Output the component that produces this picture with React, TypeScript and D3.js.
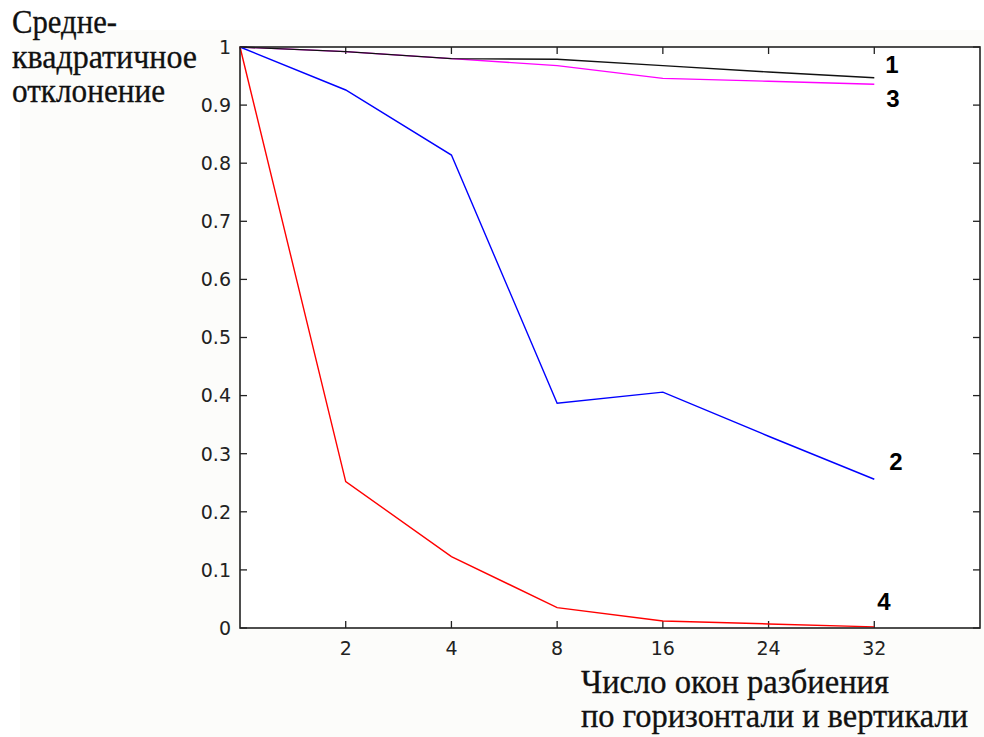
import React, { useEffect, useRef } from 'react'
import * as d3 from 'd3'

// x categories: number of windows (first point has no tick label)
const windows = [1, 2, 4, 8, 16, 24, 32]
const xTickLabels = ['2', '4', '8', '16', '24', '32']
const yTicks = [0, 0.1, 0.2, 0.3, 0.4, 0.5, 0.6, 0.7, 0.8, 0.9, 1]

const curve1 = [1, 0.992, 0.98, 0.979, 0.968, 0.957, 0.947]
const curve2 = [1, 0.926, 0.814, 0.387, 0.406, 0.33, 0.256]
const curve3 = [1, 0.992, 0.98, 0.968, 0.946, 0.941, 0.936]
const curve4 = [1, 0.252, 0.123, 0.035, 0.012, 0.007, 0.002]

const series = [
  { id: '3', values: curve3, color: '#ff00ff' },
  { id: '1', values: curve1, color: '#111111' },
  { id: '2', values: curve2, color: '#0000ff' },
  { id: '4', values: curve4, color: '#ff0000' }
]

const yTitle = ['Средне-', 'квадратичное', 'отклонение']
const xTitle = ['Число окон разбиения', 'по горизонтали и вертикали']

const width = 984
const height = 737

export default function App() {
  const svgRef = useRef<SVGSVGElement>(null)

  useEffect(() => {
    if (!svgRef.current) return
    const svg = d3.select(svgRef.current)
    svg.selectAll('*').remove()

    const left = 240
    const right = 980
    const top = 47
    const bottom = 628

    const x = d3.scaleLinear().domain([0, windows.length]).range([left, right])
    const y = d3.scaleLinear().domain([0, 1]).range([bottom, top])

    svg.append('rect').attr('width', width).attr('height', height).attr('fill', '#ffffff')
    // faint figure background
    svg.append('rect')
      .attr('x', 20).attr('y', 30).attr('width', width - 20).attr('height', height - 30)
      .attr('fill', '#fcfcfa')
    svg.append('rect')
      .attr('x', left).attr('y', top).attr('width', right - left).attr('height', bottom - top)
      .attr('fill', '#ffffff')

    const tickFont = '"DejaVu Sans", sans-serif'
    const axisColor = '#222'

    // y ticks left and right
    yTicks.forEach(t => {
      const yy = y(t)
      svg.append('line').attr('x1', left).attr('x2', left + 7).attr('y1', yy).attr('y2', yy)
        .attr('stroke', axisColor).attr('stroke-width', 1.3)
      svg.append('line').attr('x1', right - 7).attr('x2', right).attr('y1', yy).attr('y2', yy)
        .attr('stroke', axisColor).attr('stroke-width', 1.3)
      svg.append('text')
        .attr('x', left - 9).attr('y', yy)
        .attr('dy', '0.36em')
        .attr('text-anchor', 'end')
        .style('font-family', tickFont).style('font-size', '19px').attr('fill', '#222')
        .text(d3.format('~g')(t))
    })

    // x ticks bottom and top
    xTickLabels.forEach((label, i) => {
      const xx = x(i + 1)
      svg.append('line').attr('x1', xx).attr('x2', xx).attr('y1', bottom).attr('y2', bottom - 7)
        .attr('stroke', axisColor).attr('stroke-width', 1.3)
      svg.append('line').attr('x1', xx).attr('x2', xx).attr('y1', top).attr('y2', top + 7)
        .attr('stroke', axisColor).attr('stroke-width', 1.3)
      svg.append('text')
        .attr('x', xx).attr('y', 655)
        .attr('text-anchor', 'middle')
        .style('font-family', tickFont).style('font-size', '19px').attr('fill', '#222')
        .text(label)
    })

    // lines
    const line = d3.line<number>()
      .x((_, i) => x(i))
      .y(d => y(d))

    series.forEach(s => {
      svg.append('path')
        .datum(s.values)
        .attr('fill', 'none')
        .attr('stroke', s.color)
        .attr('stroke-width', 1.4)
        .attr('d', line)
    })

    // frame
    svg.append('rect')
      .attr('x', left).attr('y', top).attr('width', right - left).attr('height', bottom - top)
      .attr('fill', 'none').attr('stroke', axisColor).attr('stroke-width', 1.6)

    // curve numbers
    const curveLabels = [
      { text: '1', v: curve1[6], dx: 11, dy: -5 },
      { text: '3', v: curve3[6], dx: 12, dy: 23 },
      { text: '2', v: curve2[6], dx: 15, dy: -9 },
      { text: '4', v: curve4[6], dx: 3, dy: -17 }
    ]
    curveLabels.forEach(c => {
      svg.append('text')
        .attr('x', x(6) + c.dx).attr('y', y(c.v) + c.dy)
        .style('font-family', '"Liberation Sans", Arial, sans-serif')
        .style('font-size', '24px').style('font-weight', 'bold')
        .attr('fill', '#000')
        .text(c.text)
    })

    // axis titles
    const serif = '"Liberation Serif", "Times New Roman", serif'
    const yTitleWidths = [105, 185, 153]
    yTitle.forEach((t, i) => {
      svg.append('text')
        .attr('x', 12).attr('y', 33 + i * 34.5)
        .attr('textLength', yTitleWidths[i]).attr('lengthAdjust', 'spacingAndGlyphs')
        .style('font-family', serif).style('font-size', '33px')
        .attr('fill', '#111').attr('stroke', '#111').attr('stroke-width', 0.3)
        .text(t)
    })
    const xTitleWidths = [308, 387]
    xTitle.forEach((t, i) => {
      svg.append('text')
        .attr('x', 581).attr('y', 693 + i * 34)
        .attr('textLength', xTitleWidths[i]).attr('lengthAdjust', 'spacingAndGlyphs')
        .style('font-family', serif).style('font-size', '33px')
        .attr('fill', '#111').attr('stroke', '#111').attr('stroke-width', 0.3)
        .text(t)
    })
  }, [])

  return (
    <svg
      ref={svgRef}
      width={width}
      height={height}
      style={{ position: 'absolute', left: 0, top: 0, display: 'block' }}
    />
  )
}
